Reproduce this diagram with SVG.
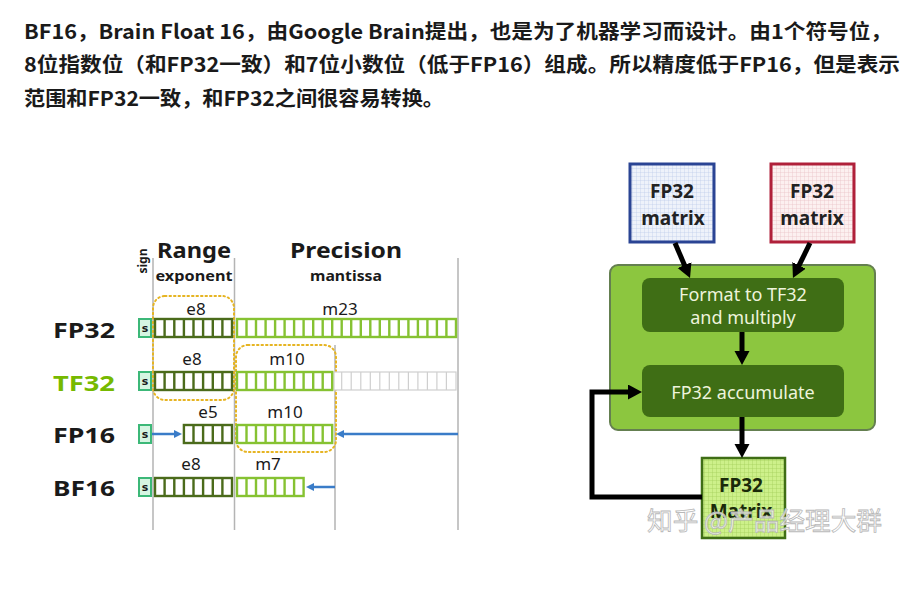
<svg xmlns="http://www.w3.org/2000/svg" xmlns:xlink="http://www.w3.org/1999/xlink" width="916" height="589" viewBox="0 0 916 589">
<style>
.intro{font-family:"Noto Sans CJK SC","Noto Sans",sans-serif;font-weight:700;font-size:20px;fill:#1a1a1a}
.hdr{font-family:"Noto Sans","DejaVu Sans",sans-serif;font-weight:700;fill:#1a1a1a;text-anchor:middle}
.rowlbl{font-family:"Noto Sans","DejaVu Sans",sans-serif;font-weight:700;font-size:22px;fill:#1a1a1a}
.fld{font-family:"Noto Sans","DejaVu Sans",sans-serif;font-size:17px;fill:#1a1a1a;text-anchor:middle}
.vline{stroke:#b4b4b4;stroke-width:1.5;fill:none}
.dot{fill:none;stroke:#e6b422;stroke-width:2;stroke-dasharray:1.5 3;stroke-linecap:round}
.exp{fill:#fff;stroke:#4b6b1b;stroke-width:2.4}
.man{fill:#fff;stroke:#86c232;stroke-width:2.4}
.gry{fill:#fff;stroke:#cfcfcf;stroke-width:1.2}
.sgn{fill:#d6f5e2;stroke:#3cb878;stroke-width:2}
.stxt{font-family:"DejaVu Sans",sans-serif;font-size:11px;fill:#1a1a1a;text-anchor:middle;font-weight:700}
.barrow{stroke:#3a7cc8;stroke-width:2.5;fill:none}
.karrow{stroke:#000;stroke-width:5;fill:none}
.mtx{font-family:"Noto Sans","DejaVu Sans",sans-serif;font-weight:700;font-size:19px;fill:#222;text-anchor:middle}
.inner{font-family:"Noto Sans","DejaVu Sans",sans-serif;font-size:18px;fill:#eef4dc;text-anchor:middle}
.wm{font-family:"Noto Sans CJK SC",sans-serif;font-size:25px;fill:#ffffff;fill-opacity:0.75;stroke:#b8b8b8;stroke-width:0.8}
</style>
<defs>
<marker id="bh" markerUnits="userSpaceOnUse" markerWidth="9" markerHeight="9" refX="1" refY="4" orient="auto"><path d="M0,0 L8,4 L0,8 z" fill="#3a7cc8"/></marker>
<marker id="kh" markerUnits="userSpaceOnUse" markerWidth="15" markerHeight="16" refX="2" refY="7.5" orient="auto"><path d="M0,0 L14,7.5 L0,15 z" fill="#000"/></marker>
<pattern id="gb" width="4" height="4" patternUnits="userSpaceOnUse"><rect width="4" height="4" fill="#eef2fa"/><path d="M0,0 H4 M0,0 V4" stroke="#b9c7e6" stroke-width="0.7"/></pattern>
<pattern id="gr" width="4" height="4" patternUnits="userSpaceOnUse"><rect width="4" height="4" fill="#fcf0f0"/><path d="M0,0 H4 M0,0 V4" stroke="#e6bcc2" stroke-width="0.7"/></pattern>
<pattern id="gg" width="4" height="4" patternUnits="userSpaceOnUse"><rect width="4" height="4" fill="#cdf08a"/><path d="M0,0 H4 M0,0 V4" stroke="#9fcc55" stroke-width="0.7"/></pattern>
<g id="sign"><rect class="sgn" x="139" y="0" width="12" height="18"/><text class="stxt" x="145" y="13">s</text></g>
<g id="exp8"><rect class="exp" x="155" y="0" width="77" height="18"/><path class="exp" d="M164.6,0V18M174.3,0V18M183.9,0V18M193.5,0V18M203.1,0V18M212.8,0V18M222.4,0V18"/></g>
<g id="exp5"><rect class="exp" x="183.9" y="0" width="48.1" height="18"/><path class="exp" d="M193.5,0V18M203.1,0V18M212.8,0V18M222.4,0V18"/></g>
<g id="man23"><rect class="man" x="237" y="0" width="219" height="18"/><path class="man" d="M246.5,0V18M256,0V18M265.6,0V18M275.1,0V18M284.6,0V18M294.1,0V18M303.6,0V18M313.2,0V18M322.7,0V18M332.2,0V18M341.7,0V18M351.2,0V18M360.8,0V18M370.3,0V18M379.8,0V18M389.3,0V18M398.8,0V18M408.4,0V18M417.9,0V18M427.4,0V18M436.9,0V18M446.4,0V18"/></g>
<g id="man10"><rect class="man" x="237" y="0" width="95.2" height="18"/><path class="man" d="M246.5,0V18M256,0V18M265.6,0V18M275.1,0V18M284.6,0V18M294.1,0V18M303.6,0V18M313.2,0V18M322.7,0V18"/></g>
<g id="man7"><rect class="man" x="237" y="0" width="66.6" height="18"/><path class="man" d="M246.5,0V18M256,0V18M265.6,0V18M275.1,0V18M284.6,0V18M294.1,0V18"/></g>
<g id="gray13"><rect class="gry" x="334" y="0" width="122" height="18"/><path class="gry" d="M341.7,0V18M351.2,0V18M360.8,0V18M370.3,0V18M379.8,0V18M389.3,0V18M398.8,0V18M408.4,0V18M417.9,0V18M427.4,0V18M436.9,0V18M446.4,0V18"/></g>
</defs>
<rect width="916" height="589" fill="#ffffff"/>

<g id="intro">
<text class="intro" x="24" y="39" textLength="868" lengthAdjust="spacingAndGlyphs">BF16，Brain Float 16，由Google Brain提出，也是为了机器学习而设计。由1个符号位，</text>
<text class="intro" x="24" y="72" textLength="876" lengthAdjust="spacingAndGlyphs">8位指数位（和FP32一致）和7位小数位（低于FP16）组成。所以精度低于FP16，但是表示</text>
<text class="intro" x="24" y="106" textLength="420" lengthAdjust="spacingAndGlyphs">范围和FP32一致，和FP32之间很容易转换。</text>
</g>

<g id="formats">
<path class="vline" d="M153,258V530M234.5,258V530M335,345V530M458,258V530"/>
<text class="hdr" x="194" y="258" font-size="22" textLength="74" lengthAdjust="spacingAndGlyphs">Range</text>
<text class="hdr" x="346" y="258" font-size="22" textLength="112" lengthAdjust="spacingAndGlyphs">Precision</text>
<text class="hdr" x="194" y="281" font-size="13.5" textLength="77" lengthAdjust="spacingAndGlyphs">exponent</text>
<text class="hdr" x="346" y="281" font-size="13.5" textLength="72" lengthAdjust="spacingAndGlyphs">mantissa</text>
<text class="hdr" x="147" y="261" font-size="13" transform="rotate(-90 147 261)" textLength="25" lengthAdjust="spacingAndGlyphs">sign</text>
<rect class="dot" x="153" y="296" width="81" height="104" rx="12"/>
<rect class="dot" x="236" y="345" width="100" height="107" rx="12"/>

<g id="row-fp32">
<text class="rowlbl" x="53" y="338" textLength="62" lengthAdjust="spacingAndGlyphs">FP32</text>
<use xlink:href="#sign" y="319"/><use xlink:href="#exp8" y="319"/><use xlink:href="#man23" y="319"/>
<text class="fld" x="196" y="315">e8</text><text class="fld" x="340" y="315">m23</text>
</g>
<g id="row-tf32">
<text class="rowlbl" x="53" y="391" textLength="62" lengthAdjust="spacingAndGlyphs" style="fill:#76b900">TF32</text>
<use xlink:href="#sign" y="372"/><use xlink:href="#exp8" y="372"/><use xlink:href="#gray13" y="372"/><use xlink:href="#man10" y="372"/>
<text class="fld" x="192" y="365">e8</text><text class="fld" x="287" y="365">m10</text>
</g>
<g id="row-fp16">
<text class="rowlbl" x="53" y="443" textLength="62" lengthAdjust="spacingAndGlyphs">FP16</text>
<use xlink:href="#sign" y="425"/><use xlink:href="#exp5" y="425"/><use xlink:href="#man10" y="425"/>
<text class="fld" x="208" y="418">e5</text><text class="fld" x="285" y="418">m10</text>
</g>
<g id="row-bf16">
<text class="rowlbl" x="53" y="496" textLength="62" lengthAdjust="spacingAndGlyphs">BF16</text>
<use xlink:href="#sign" y="478"/><use xlink:href="#exp8" y="478"/><use xlink:href="#man7" y="478"/>
<text class="fld" x="191" y="470">e8</text><text class="fld" x="268" y="470">m7</text>
</g>
<g id="blue-arrows">
<path class="barrow" d="M152,434H175" marker-end="url(#bh)"/>
<path class="barrow" d="M458,434H343" marker-end="url(#bh)"/>
<path class="barrow" d="M335,487H313" marker-end="url(#bh)"/>
</g>
</g>

<g id="tensorcore">
<rect x="610" y="265" width="265" height="165" rx="8" fill="#8cc63f" stroke="#647f50" stroke-width="2"/>
</g>
<g id="fp32-matrix-a">
<rect x="630" y="164" width="84" height="78" fill="url(#gb)" stroke="#2a4494" stroke-width="3"/>
<text class="mtx" x="672" y="198">FP32</text><text class="mtx" x="673" y="225">matrix</text>
</g>
<g id="fp32-matrix-b">
<rect x="771" y="164" width="83" height="78" fill="url(#gr)" stroke="#b0203a" stroke-width="3"/>
<text class="mtx" x="812" y="198">FP32</text><text class="mtx" x="812" y="225">matrix</text>
</g>
<g id="format-multiply">
<rect x="642" y="278" width="202" height="54" rx="8" fill="#3f6e15"/>
<text class="inner" x="743" y="301">Format to TF32</text><text class="inner" x="743" y="324">and multiply</text>
</g>
<g id="accumulate">
<rect x="642" y="365" width="202" height="52" rx="8" fill="#3f6e15"/>
<text class="inner" x="743" y="399">FP32 accumulate</text>
</g>
<g id="fp32-matrix-out">
<rect x="702" y="458" width="83" height="80" fill="url(#gg)" stroke="#3f6e15" stroke-width="2.5"/>
<text class="mtx" x="741" y="492" style="fill:#1a2a0a">FP32</text><text class="mtx" x="741" y="518" style="fill:#1a2a0a">Matrix</text>
</g>

<g id="connectors">
<path class="karrow" d="M675,243L685.3,267" marker-end="url(#kh)"/>
<path class="karrow" d="M810,243L798.2,267.2" marker-end="url(#kh)"/>
<path class="karrow" d="M742,332V353" marker-end="url(#kh)"/>
<path class="karrow" d="M742,417V446" marker-end="url(#kh)"/>
<path class="karrow" d="M702,497H592V392H630" marker-end="url(#kh)"/>
</g>

<text class="wm" x="647" y="530" textLength="235" lengthAdjust="spacingAndGlyphs">知乎 @产品经理大群</text>
</svg>
